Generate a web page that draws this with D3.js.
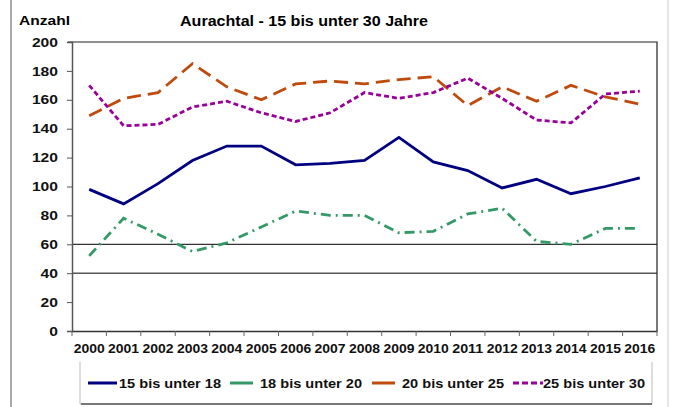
<!DOCTYPE html>
<html>
<head>
<meta charset="utf-8">
<script src="https://cdn.jsdelivr.net/npm/d3@7"></script>
<style>
  body { margin: 0; background: #fff; }
  svg { font-family: Arial, "Liberation Sans", sans-serif; }
</style>
</head>
<body>
<svg width="675" height="407"></svg>
<script>
// years on the x axis
const years = [2000, 2001, 2002, 2003, 2004, 2005, 2006, 2007, 2008, 2009, 2010, 2011, 2012, 2013, 2014, 2015, 2016];
// values per age group
const s15bis18 = [98, 88, 102, 118, 128, 128, 115, 116, 118, 134, 117, 111, 99, 105, 95, 100, 106];
const s18bis20 = [52, 78, 67, 55, 61, 72, 83, 80, 80, 68, 69, 81, 85, 62, 60, 71, 71];
const s20bis25 = [149, 161, 165, 185, 169, 160, 171, 173, 171, 174, 176, 156, 169, 159, 170, 162, 157];
const s25bis30 = [170, 142, 143, 155, 159, 151, 145, 151, 165, 161, 165, 175, 161, 146, 144, 164, 166];
const yTicks = [0, 20, 40, 60, 80, 100, 120, 140, 160, 180, 200];
const seriesNames = ["15 bis unter 18", "18 bis unter 20", "20 bis unter 25", "25 bis unter 30"];

const series = [
  { name: seriesNames[0], values: s15bis18, color: "#000080", dash: null },
  { name: seriesNames[1], values: s18bis20, color: "#339966", dash: "10,5,2,5" },
  { name: seriesNames[2], values: s20bis25, color: "#BF4A0B", dash: "14,7" },
  { name: seriesNames[3], values: s25bis30, color: "#990099", dash: "5,3" }
];

const svg = d3.select("svg");
const font = "Arial, 'Liberation Sans', sans-serif";

// outer frame lines
svg.append("line").attr("x1", 11).attr("x2", 11).attr("y1", 0).attr("y2", 407)
  .attr("stroke", "#aaa").attr("stroke-width", 2);
svg.append("line").attr("x1", 668).attr("x2", 668).attr("y1", 0).attr("y2", 407)
  .attr("stroke", "#ccc").attr("stroke-width", 1);

const plotLeft = 72, plotRight = 657, plotTop = 42, plotBottom = 331;

const x = d3.scaleBand().domain(years).range([plotLeft, plotRight]);
const y = d3.scaleLinear().domain([0, 200]).range([plotBottom, plotTop]);

// texts (the picture's glyphs are a bit wider than Arial, so stretch them)
svg.append("text").attr("x", 19).attr("y", 25)
  .attr("font-size", 13).attr("font-weight", "bold")
  .attr("textLength", 51).attr("lengthAdjust", "spacingAndGlyphs").text("Anzahl");
svg.append("text").attr("x", 180).attr("y", 26)
  .attr("font-size", 14).attr("font-weight", "bold")
  .attr("textLength", 248).attr("lengthAdjust", "spacingAndGlyphs")
  .text("Aurachtal - 15 bis unter 30 Jahre");

// gridlines at 40 and 60
svg.append("line").attr("x1", plotLeft).attr("x2", plotRight).attr("y1", y(60)).attr("y2", y(60))
  .attr("stroke", "#000").attr("stroke-width", 1);
svg.append("line").attr("x1", plotLeft).attr("x2", plotRight).attr("y1", y(40)).attr("y2", y(40))
  .attr("stroke", "#555").attr("stroke-width", 1.6);

// top and right border of plot area
svg.append("path")
  .attr("d", `M${plotLeft - 4},${y(200)}H${plotRight}V${plotBottom}`)
  .attr("fill", "none").attr("stroke", "#222").attr("stroke-width", 1.2);

// y axis
const yAxis = svg.append("g").attr("transform", `translate(${plotLeft},0)`)
  .call(d3.axisLeft(y).tickValues(yTicks).tickSize(5).tickPadding(9));
yAxis.select(".domain").attr("stroke", "#555").attr("stroke-width", 1.5);
yAxis.selectAll(".tick line").attr("stroke", "#555");
yAxis.selectAll("text").attr("font-size", 13).attr("font-weight", "bold")
  .attr("font-family", font).attr("fill", "#111")
  .attr("textLength", d => String(d).length * 8.7)
  .attr("lengthAdjust", "spacingAndGlyphs");

// x axis: ticks between categories
const xAxis = svg.append("g").attr("transform", `translate(0,${plotBottom})`)
  .call(d3.axisBottom(x).tickSize(0).tickPadding(13));
xAxis.select(".domain").attr("stroke", "#333").attr("stroke-width", 1.5);
xAxis.selectAll("text").attr("font-size", 12).attr("font-weight", "bold")
  .attr("font-family", font).attr("fill", "#111")
  .attr("textLength", 31).attr("lengthAdjust", "spacingAndGlyphs");
xAxis.selectAll(".sep").data(years.concat(["end"])).join("line")
  .attr("class", "sep")
  .attr("x1", (d, i) => plotLeft + i * x.bandwidth())
  .attr("x2", (d, i) => plotLeft + i * x.bandwidth())
  .attr("y1", 0).attr("y2", 5)
  .attr("stroke", "#666").attr("stroke-width", 1);

// lines
const line = d3.line()
  .x((d, i) => x(years[i]) + x.bandwidth() / 2)
  .y(d => y(d));

svg.selectAll(".series").data(series).join("path")
  .attr("class", "series")
  .attr("d", d => line(d.values))
  .attr("fill", "none")
  .attr("stroke", d => d.color)
  .attr("stroke-width", 2.8)
  .attr("stroke-dasharray", d => d.dash);

// legend
const lg = svg.append("g");
lg.append("rect").attr("x", 80).attr("y", 362).attr("width", 572).attr("height", 42)
  .attr("fill", "#fff").attr("stroke", "none");
lg.append("path").attr("d", "M80,362V404H652V362")
  .attr("fill", "none").attr("stroke", "#bbb").attr("stroke-width", 1);
lg.append("line").attr("x1", 81).attr("x2", 652).attr("y1", 404).attr("y2", 404)
  .attr("stroke", "#555").attr("stroke-width", 1.5);

const legendX = [88, 230, 372, 513];
const lineW = [29, 23, 23, 30];
const textX = [119, 260, 402, 543];
series.forEach((s, i) => {
  lg.append("line").attr("x1", legendX[i]).attr("x2", legendX[i] + lineW[i])
    .attr("y1", 383).attr("y2", 383)
    .attr("stroke", s.color).attr("stroke-width", 3)
    .attr("stroke-dasharray", i === 3 ? "6,3" : null);
  lg.append("text").attr("x", textX[i]).attr("y", 388)
    .attr("font-size", 13).attr("font-weight", "bold").attr("fill", "#111")
    .attr("textLength", 102).attr("lengthAdjust", "spacingAndGlyphs")
    .text(s.name);
});
</script>
</body>
</html>
